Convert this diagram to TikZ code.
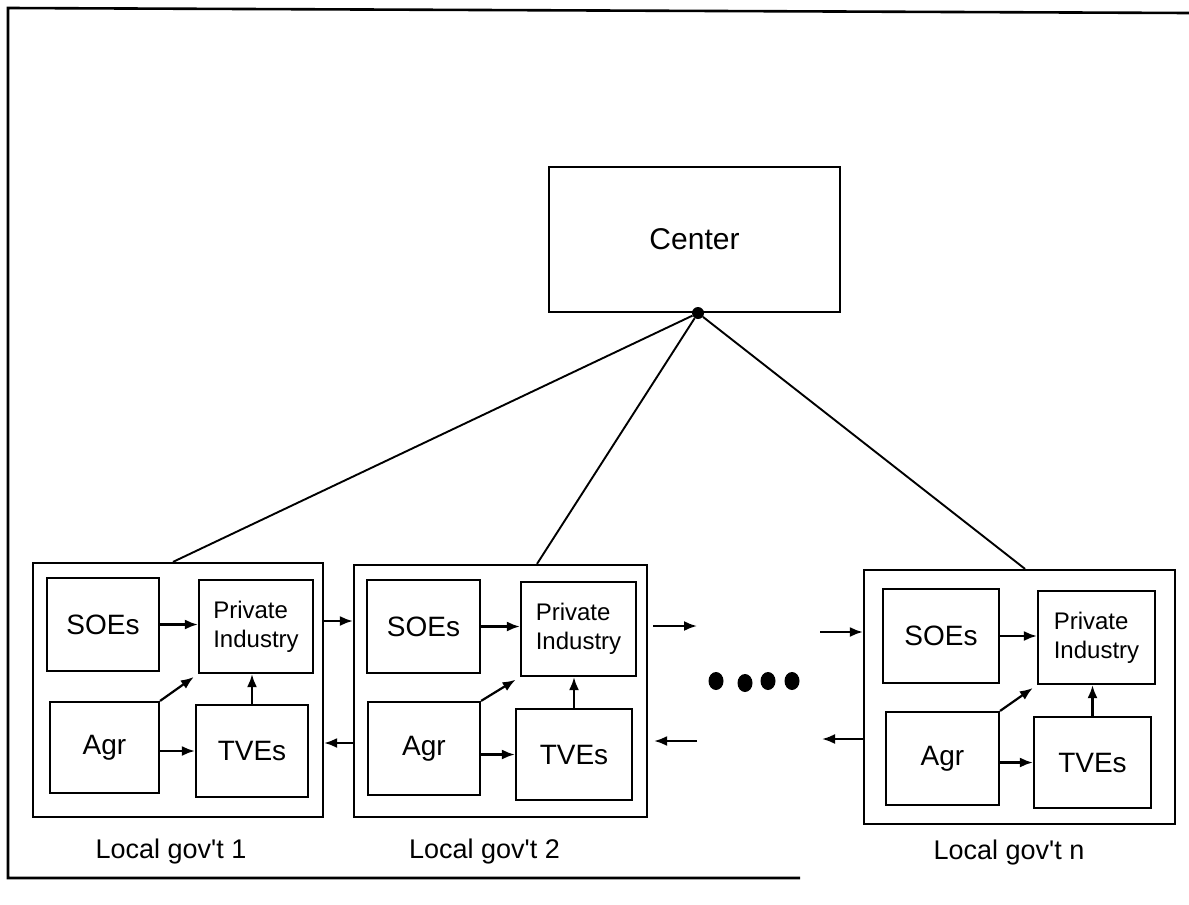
\documentclass[tikz,border=0pt]{standalone}
\usepackage{fontspec}
\setmainfont{Liberation Sans}
\newfontfamily\lsans{Liberation Sans}
\usetikzlibrary{arrows.meta,shapes.geometric}
\tikzset{
  every node/.style={font=\lsans},
  box/.style={draw, line width=2.2pt, inner sep=0pt},
  outer/.style={draw, line width=2.2pt, inner sep=0pt},
  arr/.style={line width=2.2pt, -{Latex[length=13pt,width=10pt]}},
  link/.style={line width=1.9pt},
  frame/.style={line width=2.6pt},
  lab/.style={font=\lsans\fontsize{27}{32}\selectfont},
  big/.style={font=\lsans\fontsize{28}{33}\selectfont},
  pri/.style={font=\lsans\fontsize{24}{29}\selectfont, align=left},
  hubdot/.style={circle, fill, inner sep=0pt, minimum size=12pt},
  ellipsisdot/.style={ellipse, fill, inner sep=0pt, minimum width=15pt, minimum height=18pt}
}
\newcommand{\agr}{\raisebox{-4pt}{Agr}\hspace{14pt}}
\begin{document}
\begin{tikzpicture}[x=1pt,y=-1pt]
\useasboundingbox (0,0) rectangle (1189,905);
% outer frame
\draw[frame] (1189,13) -- (8,8) -- (8,878) -- (800,878);

% center
\node[box, minimum width=291pt, minimum height=145pt, font=\lsans\fontsize{30}{36}\selectfont] (c) at (694.5,239.5) {Center};
\node[hubdot] (hub) at (698,313) {};

% Local gov't 1
\node[outer, minimum width=290pt, minimum height=254pt] (g1) at (178,690) {};
\node[box, big, minimum width=112pt, minimum height=93pt] (s1) at (103,624.5) {SOEs};
\node[box, pri, minimum width=114pt, minimum height=93pt] (p1) at (256,626.5) {Private\\Industry};
\node[box, big, minimum width=109pt, minimum height=91pt] (a1) at (104.5,747.5) {\agr};
\node[box, big, minimum width=112pt, minimum height=92pt] (t1) at (252,751) {TVEs};
\node[lab] (l1) at (171,852) {Local gov't 1};

% Local gov't 2
\node[outer, minimum width=293pt, minimum height=252pt] (g2) at (500.5,691) {};
\node[box, big, minimum width=113pt, minimum height=93pt] (s2) at (423.5,626.5) {SOEs};
\node[box, pri, minimum width=115pt, minimum height=94pt] (p2) at (578.5,629) {Private\\Industry};
\node[box, big, minimum width=112pt, minimum height=93pt] (a2) at (424,748.5) {\agr};
\node[box, big, minimum width=116pt, minimum height=91pt] (t2) at (574,754.5) {TVEs};
\node[lab] (l2) at (484.5,852) {Local gov't 2};

% Local gov't n
\node[outer, minimum width=311pt, minimum height=254pt] (gn) at (1019.5,697) {};
\node[box, big, minimum width=116pt, minimum height=94pt] (sn) at (941,636) {SOEs};
\node[box, pri, minimum width=117pt, minimum height=93pt] (pn) at (1096.5,637.5) {Private\\Industry};
\node[box, big, minimum width=113pt, minimum height=93pt] (an) at (942.5,758.5) {\agr};
\node[box, big, minimum width=117pt, minimum height=91pt] (tn) at (1092.5,762.5) {TVEs};
\node[lab] (ln) at (1009,853) {Local gov't n};

% hub links
\draw[link] (hub) -- ([xshift=-5pt]g1.north);
\draw[link] (hub) -- ([xshift=36.5pt]g2.north);
\draw[link] (hub) -- ([xshift=5.5pt]gn.north);

% inner arrows
\foreach \i in {1,2,n}{
  \draw[arr] (s\i.east) -- (s\i.east -| p\i.west);
  \draw[arr] (t\i.west -| a\i.east) -- (t\i.west);
  \draw[arr] (t\i.north) -- (t\i.north |- p\i.south);
  \draw[arr, shorten >=5pt] (a\i.north east) -- (p\i.south west);
}

% between local governments
\coordinate (r12) at (0,621);
\coordinate (l12) at (0,743);
\draw[arr] (g1.east |- r12) -- (g2.west |- r12);
\draw[arr] (g2.west |- l12) -- (g1.east |- l12);

\coordinate (r2) at (697,626);
\coordinate (lb2) at (697,741);
\draw[arr, shorten <=5pt] (g2.east |- r2) -- (r2);
\draw[arr, shorten >=6pt] (lb2) -- (g2.east |- lb2);

\coordinate (rn) at (820,632);
\coordinate (lbn) at (822,739);
\draw[arr] (rn) -- (gn.west |- rn);
\draw[arr] (gn.west |- lbn) -- (lbn);

% ellipsis
\node[ellipsisdot] (d1) at (716,681) {};
\node[ellipsisdot] (d2) at (745,683) {};
\node[ellipsisdot] (d3) at (768,681) {};
\node[ellipsisdot] (d4) at (792,681) {};
\end{tikzpicture}
\end{document}
